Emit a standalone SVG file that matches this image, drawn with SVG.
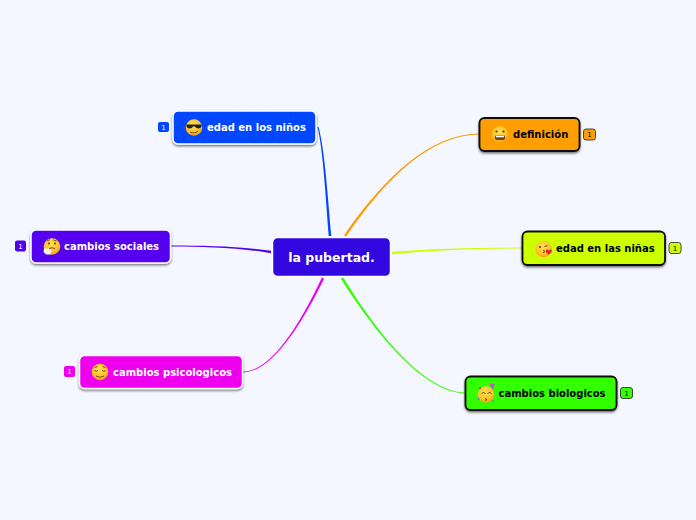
<svg xmlns="http://www.w3.org/2000/svg" width="696" height="520" viewBox="0 0 696 520">
<style>
text{font-family:"DejaVu Sans",sans-serif;font-weight:700}
.t{font-size:10px}
.w{fill:#fff}.k{fill:#000}
.lt{stroke:#fff;stroke-width:1.500;filter:url(#sh)}
.dk{stroke:#111;stroke-width:1.800;filter:url(#sh)}
.bd{font-size:7px;font-weight:400;text-anchor:middle}
</style>
<defs>
<filter id="sh" x="-10%" y="-20%" width="120%" height="150%"><feDropShadow dx="0" dy="1.5" stdDeviation="1.100" flood-color="#000" flood-opacity="0.55"/></filter>
<radialGradient id="f" cx="45%" cy="35%" r="65%"><stop offset="0" stop-color="#ffdf50"/><stop offset="0.7" stop-color="#fcc22c"/><stop offset="1" stop-color="#f59a1a"/></radialGradient>
<circle id="face" r="8.300" fill="url(#f)"/>
</defs>
<rect width="696" height="520" fill="#f4f7ff"/>
<g id="connectors">
<path d="M317.500 127C323.100 150 325.900 200 328.700 236L331.300 236C328.100 200 324.900 150 318.500 127z" fill="#0047ff"/>
<path d="M344 235.300L346 236.700C385.600 178.500 430.200 134.500 480 134.400L480 133.600C429.800 133.500 384.400 177.500 344 235.300z" fill="#ff9e00"/>
<path d="M392 251.800L392 254.200C430 250.300 480 248.400 523 248.400L523 247.600C480 247.600 430 248.500 392 251.800z" fill="#ccff00"/>
<path d="M340.900 278.700L343.100 277.300C368.700 319.500 420.200 392.500 466 392.600L466 393.400C419.800 393.500 367.300 320.500 340.900 278.700z" fill="#33ff00"/>
<path d="M322 277.200L324 278.800C302.700 322.500 272.200 372.500 243 372.400L243 371.600C271.800 371.500 301.300 321.500 322 277.200z" fill="#ee00ee"/>
<path d="M271.200 250.800L270.800 253.200C240 247.600 205 246.400 171 246.400L171 245.600C205 245.600 240 246.400 271.200 250.800z" fill="#5500ee"/>
</g>
<g id="center">
<rect x="272.500" y="237.500" width="118" height="39" rx="5" fill="#3307e0" stroke="#fff" stroke-width="1.500"/>
<text x="331.500" y="262" font-size="12.500px" text-anchor="middle" class="w">la pubertad.</text>
</g>
<g id="n-ninos">
<rect x="173" y="111" width="143" height="33" rx="5" fill="#0047ff" class="lt"/>
<use href="#face" x="194" y="127.500"/>
<path d="M186.500 124.500h15v2c-1 2.500-5 2.500-6.500 0h-2c-1.500 2.500-5.500 2.500-6.500 0z" fill="#222"/><path d="M190 132c3 1.500 6 1 8-1" fill="none" stroke="#7a4a10"/>
<text x="207" y="131" class="t w">edad en los niños</text>
<rect x="158" y="122" width="11" height="10" rx="2" fill="#0047ff"/>
<text x="163.500" y="130" class="bd w">1</text>
</g>
<g id="n-definicion">
<rect x="479.500" y="118" width="100" height="33" rx="5" fill="#ff9e00" class="dk"/>
<use href="#face" x="500" y="134.500"/>
<circle cx="496.500" cy="131.500" r="1.100" fill="#5a3a10"/><circle cx="503.500" cy="131.500" r="1.100" fill="#5a3a10"/>
<rect x="495" y="135" width="10" height="5" rx="2" fill="#6a4020"/><rect x="496" y="135.500" width="8" height="1.800" fill="#fff"/>
<text x="513" y="138" class="t k">definición</text>
<rect x="583.500" y="129" width="12" height="11" rx="2.500" fill="#ff9e00" stroke="#222" stroke-width=".8"/>
<text x="589.500" y="137.300" class="bd k">1</text>
</g>
<g id="n-ninas">
<rect x="522.500" y="231.500" width="142.500" height="33.500" rx="5" fill="#ccff00" class="dk"/>
<use href="#face" x="543.500" y="249"/>
<circle cx="540" cy="247" r="1" fill="#5a3a10"/><path d="M544.500 246.500l3-.8M543 250.500l2 1-2 1.500" fill="none" stroke="#5a3a10" stroke-width=".9"/>
<path d="M549 250.500c1-1.500 3-1 2.800.8-.2 1.500-2 2.500-3.300 3-1.300-.6-3-2-2.800-3.400.2-1.500 2.400-1.800 3.300-.4z" fill="#e8203a"/>
<text x="556" y="252" class="t k">edad en las niñas</text>
<rect x="669" y="242.500" width="12" height="11" rx="2.500" fill="#ccff00" stroke="#222" stroke-width=".8"/>
<text x="675" y="250.800" class="bd k">1</text>
</g>
<g id="n-biologicos">
<rect x="465.500" y="376.500" width="151" height="33.500" rx="5" fill="#33ff00" class="dk"/>
<use href="#face" x="486" y="394.500"/>
<path d="M489 383.500l5.500.5-1.500 6z" fill="#b060d0"/><path d="M481.500 393.500l2-1 2 1M487.500 393.500l2-1 2 1M485 398.500l2 1-2 1" fill="none" stroke="#5a3a10" stroke-width=".9"/>
<circle cx="480" cy="388" r="1" fill="#e8203a"/><circle cx="478.500" cy="399" r="1" fill="#4a80e0"/><circle cx="493" cy="401" r="1" fill="#40b060"/>
<text x="498.500" y="397" class="t k">cambios biologicos</text>
<rect x="620.500" y="387.500" width="12" height="11" rx="2.500" fill="#33ff00" stroke="#222" stroke-width=".8"/>
<text x="626.500" y="395.800" class="bd k">1</text>
</g>
<g id="n-psicologicos">
<rect x="79.500" y="355.500" width="163" height="33" rx="5" fill="#ee00ee" class="lt"/>
<use href="#face" x="100" y="372"/>
<path d="M94.500 370.500q2 1.500 3.500 0M102 370.500q2 1.500 3.500 0M96 376q4 2.500 8 0M94.500 367.500l3-1M105.500 367.500l-3-1" fill="none" stroke="#6a4010" stroke-width=".9"/>
<text x="113" y="376" class="t w">cambios psicologicos</text>
<rect x="64" y="366" width="11" height="11" rx="2" fill="#ee00ee"/>
<text x="69.500" y="374.300" class="bd w">1</text>
</g>
<g id="n-sociales">
<rect x="31" y="230" width="139.500" height="33" rx="5" fill="#5500ee" class="lt"/>
<use href="#face" x="52" y="246.500"/>
<circle cx="49" cy="243.500" r="1" fill="#5a3a10"/><circle cx="55" cy="243.500" r="1" fill="#5a3a10"/><path d="M47 241l3-1.500M53.500 240l3 1M49 248.500q3-1.500 6 0" fill="none" stroke="#5a3a10" stroke-width=".9"/>
<path d="M44 248.500l5 0 2.500 2.500-1 3.500-4.500 0-2.500-2.500z" fill="#f4f0e8"/>
<text x="64" y="250" class="t w">cambios sociales</text>
<rect x="15" y="240.500" width="11" height="11" rx="2" fill="#5500ee"/>
<text x="20.500" y="248.800" class="bd w">1</text>
</g>
</svg>
